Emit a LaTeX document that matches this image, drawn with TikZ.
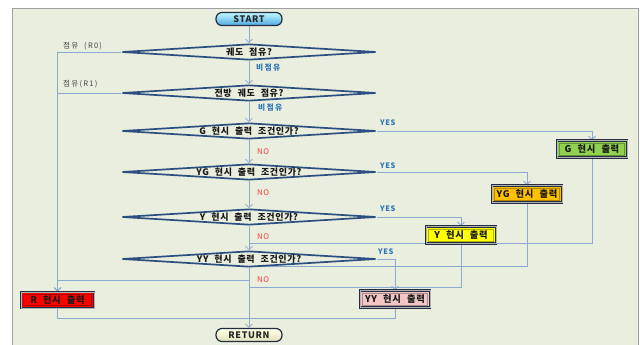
\documentclass[tikz,border=0pt]{standalone}
\usepackage{fontspec}
\setmainfont{Noto Sans CJK KR}
\newfontfamily\kr[LetterSpace=7,WordSpace=2.2]{Noto Sans CJK KR}
\newfontfamily\krw[LetterSpace=16,WordSpace=2]{Noto Sans CJK KR}
\usetikzlibrary{shapes.geometric,arrows.meta,calc,backgrounds}
\definecolor{bg}{RGB}{234,238,222}
\definecolor{framec}{RGB}{160,160,160}
\definecolor{connc}{RGB}{140,170,208}
\definecolor{dline}{RGB}{44,78,128}
\definecolor{darkc}{RGB}{35,45,65}
\definecolor{lblue}{RGB}{46,117,182}
\definecolor{nored}{RGB}{255,60,60}
\definecolor{lgray}{RGB}{70,70,70}
\definecolor{rfill}{RGB}{255,0,0}
\definecolor{gfill}{RGB}{146,208,80}
\definecolor{ygfill}{RGB}{255,192,0}
\definecolor{yfill}{RGB}{255,255,0}
\definecolor{yyfill}{RGB}{242,198,198}
\tikzset{
  conn/.style={draw=connc, line width=0.8pt},
  arr/.style={conn, -{Straight Barb[length=3.5pt,width=7pt,line width=0.8pt]}},
  dec/.style={shape=diamond, aspect=15.9, minimum width=254pt, minimum height=16pt, inner sep=0pt, draw=dline, line width=1.7pt, fill=bg, font=\kr\bfseries\fontsize{9}{9}\selectfont, text=black!90},
  term/.style={rectangle, rounded corners=6pt, minimum width=66pt, minimum height=13pt, inner sep=0pt, draw=darkc, line width=1.2pt, font=\kr\bfseries\fontsize{9}{9}\selectfont, text=black!85},
  outbox/.style={rectangle, minimum width=70pt, minimum height=17pt, inner sep=0pt, draw=darkc, double=gray!60, double distance=0.5pt, line width=0.8pt, fill=#1, font=\kr\bfseries\fontsize{9.3}{9}\selectfont, text=black!90, path picture={\draw[#1!70!black, line width=0.6pt] ($(path picture bounding box.south west)+(2.6pt,2.6pt)$) rectangle ($(path picture bounding box.north east)-(2.6pt,2.6pt)$);}},
  ylab/.style={font=\kr\bfseries\fontsize{7.5}{8}\selectfont, text=lblue, anchor=west, inner sep=0pt},
  klab/.style={font=\krw\bfseries\fontsize{7.8}{8}\selectfont, text=lblue, anchor=west, inner sep=0pt},
  nlab/.style={font=\kr\fontsize{7.8}{8}\selectfont, text=nored, anchor=west, inner sep=0pt},
  rlab/.style={font=\krw\fontsize{7.6}{8}\selectfont, text=lgray, anchor=west, inner sep=0pt},
}
\begin{document}
\begin{tikzpicture}[x=1pt,y=-1pt]
\useasboundingbox (0,0) rectangle (640,345);
\begin{pgfonlayer}{background}
\path[fill=bg, draw=framec, line width=0.8pt] (12,8) rectangle (638,352);
\end{pgfonlayer}

% nodes
\node[term, top color=blue!8!cyan!25, bottom color={rgb,255:red,80;green,168;blue,225}] (start) at (249,19) {START};
\node[dec] (d1) at (249,52) {궤도 점유?};
\node[dec] (d2) at (249,93) {전방 궤도 점유?};
\node[dec] (d3) at (249,131) {G 현시 출력 조건인가?};
\node[dec] (d4) at (249,172) {YG 현시 출력 조건인가?};
\node[dec] (d5) at (249,217) {Y 현시 출력 조건인가?};
\node[dec] (d6) at (249,259) {YY 현시 출력 조건인가?};
\node[term, top color=white!90!yellow, bottom color={rgb,255:red,225;green,225;blue,190}] (ret) at (249,335) {RETURN};

\node[outbox=gfill] (gbox) at (592,149) {G 현시 출력};
\node[outbox=ygfill] (ygbox) at (527,194) {YG 현시 출력};
\node[outbox=yfill] (ybox) at (461,235) {Y 현시 출력};
\node[outbox=yyfill] (yybox) at (395,299) {YY 현시 출력};
\node[outbox=rfill, minimum width=73pt, minimum height=16pt] (rbox) at (57.5,300) {R 현시 출력};

\coordinate (mG) at (249,243);
\coordinate (mYG) at (249,266);
\coordinate (mR) at (249,280);
\coordinate (mY) at (249,287);
\coordinate (mYY) at (249,318);

% connectors (behind the shapes)
\begin{scope}[on background layer]
\draw[arr] (start.south) -- (d1.north);
\draw[arr] (d1.south) -- (d2.north);
\draw[arr] (d2.south) -- (d3.north);
\draw[arr] (d3.south) -- (d4.north);
\draw[arr] (d4.south) -- (d5.north);
\draw[arr] (d5.south) -- (d6.north);
\draw[arr] (d6.south) -- (ret.north);

\draw[arr] (d1.west) -| (rbox.north);
\draw[conn] (d2.west) -- (d2.west -| rbox.north);
\draw[arr] (mR) -| (rbox.north);

\draw[arr] (d3.east) -| (gbox.north);
\draw[arr] (d4.east) -| (ygbox.north);
\draw[arr] (d5.east) -| (ybox.north);
\draw[arr] (d6.east) -| (yybox.north);

\draw[conn] (gbox.south) |- (mG);
\draw[conn] (ygbox.south) |- (mYG);
\draw[conn] (ybox.south) |- (mY);
\draw[conn] (yybox.south) |- (mYY);
\draw[conn] (rbox.south) |- (mYY);
\end{scope}

% labels
\node[rlab] (lr0) at (63,46) {점유 (R0)};
\node[rlab] (lr1) at (63,84) {점유(R1)};
\node[klab] (ln1) at (256,68) {비점유};
\node[klab] (ln2) at (258,108) {비점유};
\node[ylab] (y3) at (380,123) {YES};
\node[ylab] (y4) at (380,166) {YES};
\node[ylab] (y5) at (380,209) {YES};
\node[ylab] (y6) at (378,252) {YES};
\node[nlab] (n3) at (257,152) {NO};
\node[nlab] (n4) at (257,193) {NO};
\node[nlab] (n5) at (257,237) {NO};
\node[nlab] (n6) at (257,280) {NO};
\end{tikzpicture}
\end{document}
